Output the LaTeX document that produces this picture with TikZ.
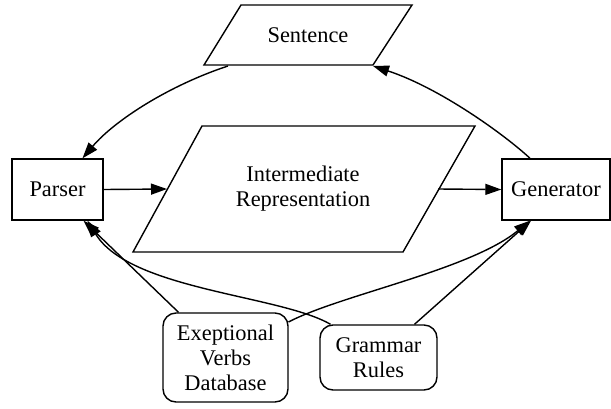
\documentclass[tikz,border=0pt]{standalone}
\usepackage{fontspec}
\setmainfont{Liberation Serif}
\usetikzlibrary{arrows.meta}
\begin{document}
\begin{tikzpicture}[x=1pt,y=-1pt,line width=1.4pt,
  every node/.style={font=\fontsize{22.4}{25}\selectfont, align=center, inner sep=0pt},
  sqbox/.style={draw, rectangle, line width=1.4pt},
  rbox/.style={draw, rectangle, rounded corners=13pt, line width=1.4pt},
  conn/.style={-{Triangle[length=16pt,width=11pt]}, line width=1.4pt}]
\useasboundingbox (0,0) rectangle (611,408);

% Sentence parallelogram
\draw (241,5) -- (412,5) -- (373,65) -- (204,65) -- cycle;
\node (sentence) at (308,35) {Sentence};
\coordinate (sentIn) at (373,66);
\coordinate (sentOut) at (228,66);

% Intermediate Representation parallelogram
\draw (202,126) -- (475,126) -- (403,252) -- (133,252) -- cycle;
\node (ir) at (303,189) {Intermediate\\Representation};
\coordinate (irIn) at (167,189);
\coordinate (irOut) at (438,189);

\node[sqbox, minimum width=91pt, minimum height=61pt] (parser) at (57.5,189.5) {Parser};
\node[sqbox, minimum width=108pt, minimum height=61pt] (generator) at (556,189.5) {Generator};

\node[rbox, minimum width=125pt, minimum height=89pt] (verbs) at (225.5,357.5) {Exeptional\\Verbs\\Database};
\node[rbox, minimum width=117pt, minimum height=65pt] (grammar) at (378.5,357.5) {Grammar\\Rules};

% connectors
\draw[conn] (sentOut) .. controls (170,85) and (115,120) .. ([xshift=25pt]parser.north);
\draw[conn] ([xshift=-26pt]generator.north) .. controls (505,135) and (440,88) .. (sentIn);
\draw[conn] (parser.east) -- (irIn);
\draw[conn] (irOut) -- (generator.west);
\draw[conn] ([xshift=-47pt]verbs.north) -- ([xshift=26pt]parser.south);
\draw[conn] ([xshift=-48pt]grammar.north) .. controls (280,295) and (130,290) .. ([xshift=30pt]parser.south);
\draw[conn] ([xshift=63pt,yshift=35.5pt]verbs.center) .. controls (340,295) and (470,270) .. ([xshift=-26pt]generator.south);
\draw[conn] ([xshift=36pt]grammar.north) -- ([xshift=-25pt]generator.south);
\end{tikzpicture}
\end{document}
